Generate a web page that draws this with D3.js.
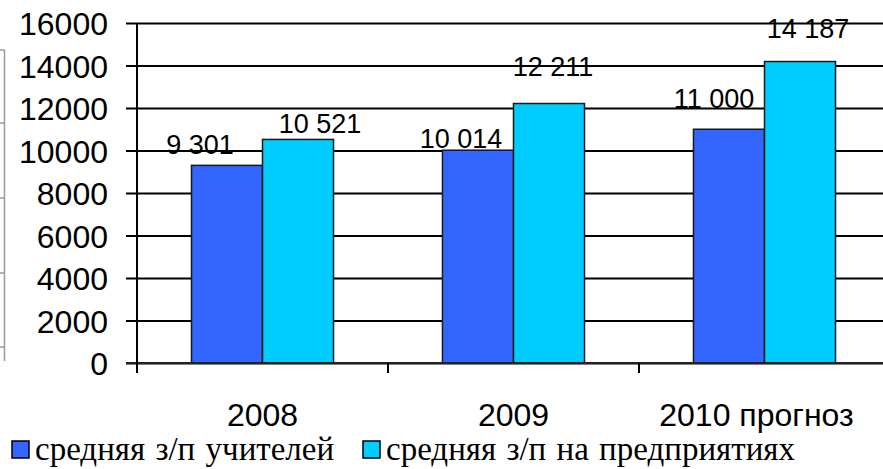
<!DOCTYPE html>
<html>
<head>
<meta charset="utf-8">
<script src="https://cdn.jsdelivr.net/npm/d3@7"></script>
<style>
  body { margin: 0; background: #fff; }
  svg { display: block; }
  .tick text { font-family: "Liberation Sans", Arial, sans-serif; }
</style>
</head>
<body>
<svg id="chart" width="883" height="469"></svg>
<script>
// data
const categories = ["2008", "2009", "2010 прогноз"];
const seriesNames = ["средняя з/п учителей", "средняя з/п на предприятиях"];
const teachers = [9301, 10014, 11000];
const enterprises = [10521, 12211, 14187];
const yTicks = [0, 2000, 4000, 6000, 8000, 10000, 12000, 14000, 16000];
const colors = ["#3366FF", "#00CCFF"];

// hand placed label nudges (dx, dy from bar top centre), as in the original
const labelNudge = [
  [[-27, -11], [-17, -2], [-15, -21]],
  [[22, -6], [4, -28], [8, -24]]
];

const svg = d3.select("svg#chart");
const margins = { top: 23, bottom: 106, left: 137 };
const height = +svg.attr("height");

const x0 = d3.scaleBand()
  .domain(categories)
  .range([margins.left, 890]);

const x1 = d3.scaleBand()
  .domain([0, 1])
  .range([0, x0.bandwidth()])
  .paddingOuter(0.767);

const yScale = d3.scaleLinear()
  .domain([0, 16000])
  .range([height - margins.bottom, margins.top]);

const fmt = d3.formatLocale({ decimal: ",", thousands: " ", grouping: [3], currency: ["", ""] }).format(",d");

// left frame remnants (piece of a table at the page edge)
const frame = svg.append("g").attr("stroke", "#9a9a9a").attr("stroke-width", 1.5);
frame.append("line").attr("x1", 4.5).attr("x2", 4.5).attr("y1", 50).attr("y2", 361);
[50, 123, 198, 273, 347].forEach(yy => {
  frame.append("line").attr("x1", 0).attr("x2", 4.5).attr("y1", yy).attr("y2", yy);
});

// gridlines
const yGrid = d3.axisLeft(yScale).tickValues(yTicks).tickSize(-(883 - 126)).tickFormat("");
svg.append("g")
  .attr("transform", "translate(126,0)")
  .call(yGrid)
  .call(g => g.select(".domain").remove())
  .selectAll("line").attr("stroke", "#000").attr("stroke-width", 2);

// y axis labels
const yAxis = d3.axisLeft(yScale).tickValues(yTicks).tickSize(0).tickPadding(29).tickFormat(d3.format("d"));
svg.append("g")
  .attr("transform", `translate(${margins.left},0)`)
  .call(yAxis)
  .call(g => g.select(".domain").remove())
  .selectAll("text")
  .attr("font-size", 32)
  .attr("fill", "#000")
  .attr("dy", "0.36em");

// bars
const table = categories.map((c, i) => ({ cat: c, vals: [teachers[i], enterprises[i]] }));

const groups = svg.selectAll("g.grp")
  .data(table)
  .join("g")
  .attr("class", "grp")
  .attr("transform", d => `translate(${x0(d.cat)},0)`);

groups.selectAll("rect")
  .data(d => d.vals.map((v, s) => ({ v, s })))
  .join("rect")
  .attr("x", d => x1(d.s))
  .attr("width", x1.bandwidth())
  .attr("y", d => yScale(d.v))
  .attr("height", d => yScale(0) - yScale(d.v))
  .attr("fill", d => colors[d.s])
  .attr("stroke", "#1a1a1a")
  .attr("stroke-width", 1.5);

// value labels
groups.selectAll("text.val")
  .data((d, i) => d.vals.map((v, s) => ({ v, s, i })))
  .join("text")
  .attr("class", "val")
  .attr("x", d => x1(d.s) + x1.bandwidth() / 2 + labelNudge[d.s][d.i][0])
  .attr("y", d => yScale(d.v) + labelNudge[d.s][d.i][1])
  .attr("text-anchor", "middle")
  .attr("font-family", "'Liberation Sans', Arial, sans-serif")
  .attr("font-size", 27)
  .attr("fill", "#000")
  .text(d => fmt(d.v));

// x axis
svg.append("line")
  .attr("x1", 126).attr("x2", 883)
  .attr("y1", yScale(0)).attr("y2", yScale(0))
  .attr("stroke", "#222").attr("stroke-width", 2);

const xTicks = [margins.left].concat(categories.slice(1).map(c => x0(c)));
svg.selectAll("line.xt")
  .data(xTicks)
  .join("line")
  .attr("class", "xt")
  .attr("x1", d => d).attr("x2", d => d)
  .attr("y1", yScale(0)).attr("y2", yScale(0) + 10)
  .attr("stroke", "#000").attr("stroke-width", 2);

// y axis line
svg.append("line")
  .attr("x1", margins.left).attr("x2", margins.left)
  .attr("y1", yScale(16000)).attr("y2", yScale(0) + 10)
  .attr("stroke", "#000").attr("stroke-width", 2);

svg.selectAll("text.cat")
  .data(categories)
  .join("text")
  .attr("class", "cat")
  .attr("x", d => x0(d) + x0.bandwidth() / 2 - (d.length > 4 ? 8 : 0))
  .attr("y", 426)
  .attr("text-anchor", "middle")
  .attr("font-family", "'Liberation Sans', Arial, sans-serif")
  .attr("font-size", 32)
  .attr("fill", "#000")
  .text(d => d);

// legend
const legendX = [12, 363];
const legend = svg.selectAll("g.leg")
  .data(seriesNames)
  .join("g")
  .attr("class", "leg")
  .attr("transform", (d, i) => `translate(${legendX[i]},441)`);

legend.append("rect")
  .attr("width", 17).attr("height", 17)
  .attr("fill", (d, i) => colors[i])
  .attr("stroke", "#000").attr("stroke-width", 1.5);

legend.append("text")
  .attr("x", 23)
  .attr("y", 19)
  .attr("font-family", "'Liberation Serif', 'Times New Roman', serif")
  .attr("font-size", 33)
  .attr("word-spacing", 2)
  .attr("fill", "#000")
  .text(d => d);
</script>
</body>
</html>
